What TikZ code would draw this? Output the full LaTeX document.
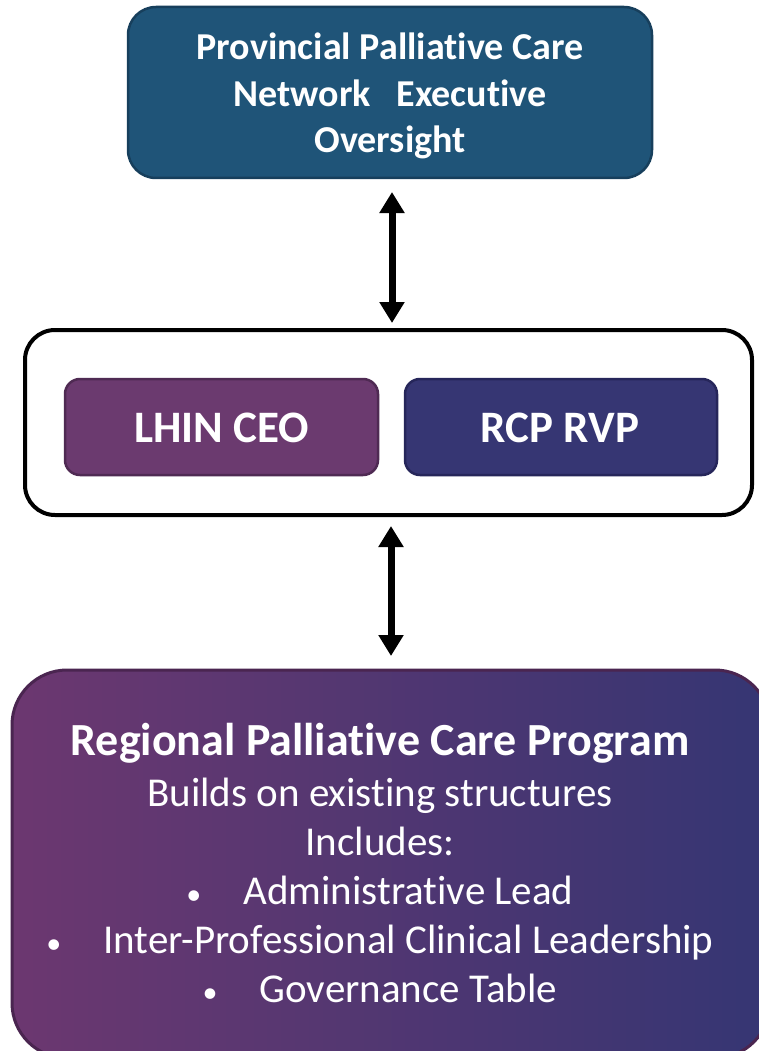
\documentclass[tikz,border=0pt]{standalone}
\usepackage{fontspec}
\setmainfont{Carlito}[Ligatures=NoCommon]
\usetikzlibrary{arrows.meta}
\definecolor{topfill}{HTML}{1F5478}
\definecolor{topedge}{HTML}{173F5C}
\definecolor{lhinfill}{HTML}{6B3A6F}
\definecolor{lhinedge}{HTML}{4F2A53}
\definecolor{rcpfill}{HTML}{363673}
\definecolor{rcpedge}{HTML}{26265A}
\definecolor{botleft}{HTML}{6C3770}
\definecolor{botright}{HTML}{353673}
\definecolor{botedge}{HTML}{4A2550}
\newcommand{\smallbul}{{\fontsize{30}{30}\selectfont\textbullet}}
\tikzset{
  box/.style={rectangle, inner sep=0pt, outer sep=0pt},
  txt/.style={anchor=base, inner sep=0pt, text=white},
  dbl/.style={line width=7pt, {Triangle[width=24pt,length=21pt]}-{Triangle[width=24pt,length=21pt]}, shorten <=-1pt, shorten >=-1pt}
}
\begin{document}
\begin{tikzpicture}[x=1pt,y=-1pt]
\useasboundingbox (0,0) rectangle (759,1051);
% top box
\node[box, draw=topedge, line width=2.5pt, fill=topfill, rounded corners=28pt,
      minimum width=524pt, minimum height=171pt] (top) at (390,92.5) {};
\node[txt, font=\bfseries\fontsize{38}{46}\selectfont] (t1) at (390,60) {Provincial Palliative Care};
\node[txt, font=\bfseries\fontsize{38}{46}\selectfont] (t2) at (390,107) {Network\ \ \ Executive};
\node[txt, font=\bfseries\fontsize{38}{46}\selectfont] (t3) at (390,153) {Oversight};
% middle box
\node[box, draw=black, line width=4pt, fill=white, rounded corners=30pt,
      minimum width=727pt, minimum height=185pt] (mid) at (388.5,422.5) {};
\node[box, draw=lhinedge, line width=2.5pt, fill=lhinfill, rounded corners=15pt,
      minimum width=313pt, minimum height=96pt] (lhin) at (221.5,427) {};
\node[box, draw=rcpedge, line width=2.5pt, fill=rcpfill, rounded corners=15pt,
      minimum width=312pt, minimum height=96pt] (rcp) at (561,427) {};
\node[txt, font=\bfseries\fontsize{45}{54}\selectfont] (l1) at (221.5,442) {LHIN CEO};
\node[txt, font=\bfseries\fontsize{45}{54}\selectfont] (r1) at (560,442) {RCP RVP};
% bottom box
\node[box, draw=botedge, line width=3pt, left color=botleft, right color=botright, rounded corners=55pt,
      minimum width=758pt, minimum height=388pt] (bot) at (391,864) {};
\node[txt, font=\bfseries\fontsize{46}{56}\selectfont] (b1) at (380,755) {Regional Palliative Care Program};
\node[txt, font=\fontsize{41}{50}\selectfont] (b2) at (380,806) {Builds on existing structures};
\node[txt, font=\fontsize{41}{50}\selectfont] (b3) at (380,855) {Includes:};
\node[txt, font=\fontsize{41}{50}\selectfont] (b4) at (380,904) {\smallbul\hspace{42pt}Administrative Lead};
\node[txt, font=\fontsize{41}{50}\selectfont] (b5) at (380,953) {\smallbul\hspace{42pt}Inter-Professional Clinical Leadership};
\node[txt, font=\fontsize{41}{50}\selectfont] (b6) at (380,1002) {\smallbul\hspace{42pt}Governance Table};
% arrows
\coordinate (a1s) at (392,193);
\coordinate (a1e) at (392,322);
\coordinate (a2s) at (391,527);
\coordinate (a2e) at (391,655);
\draw[dbl] (a1s) -- (a1e);
\draw[dbl] (a2s) -- (a2e);
\end{tikzpicture}
\end{document}
